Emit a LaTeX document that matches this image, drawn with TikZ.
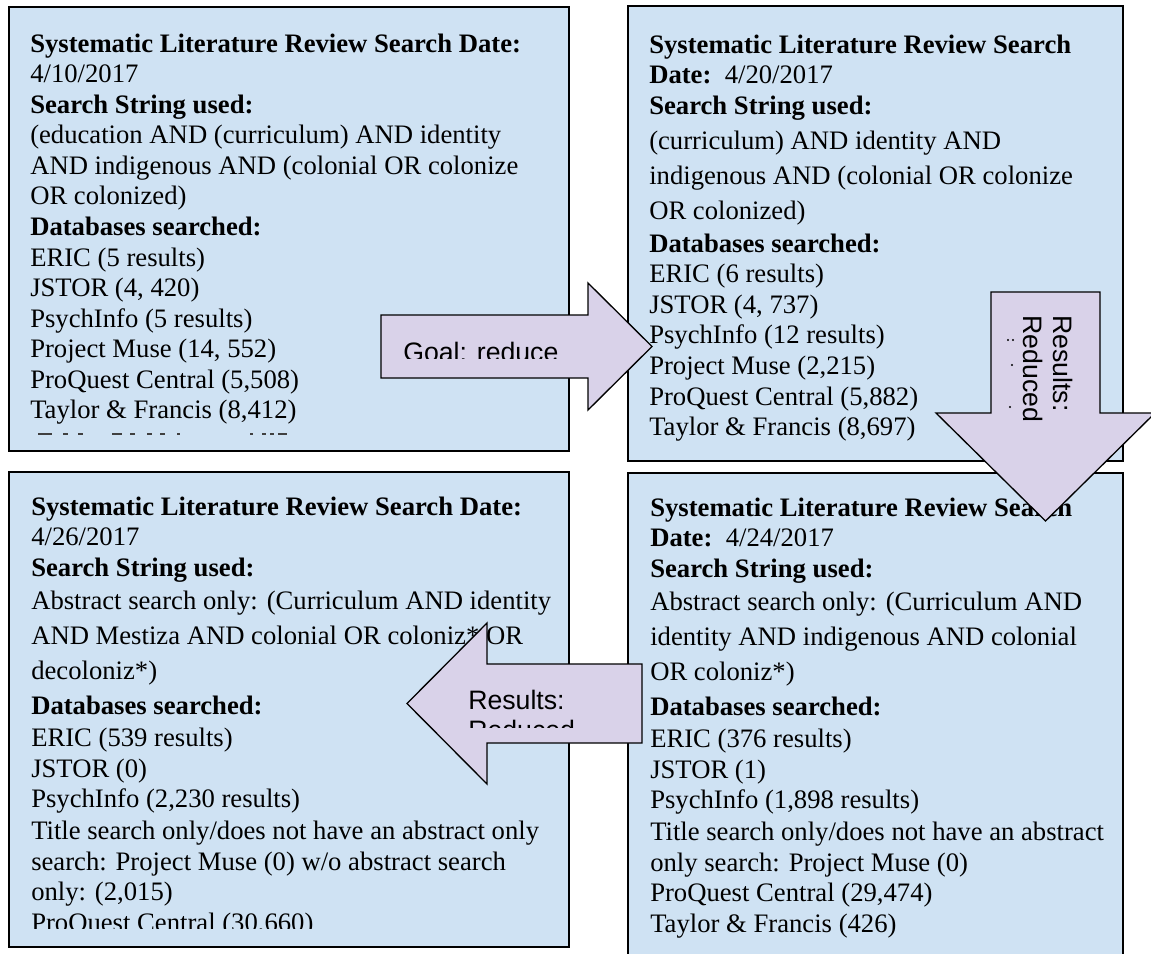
\documentclass[tikz,border=0pt]{standalone}
\usepackage{fontspec}
\setmainfont{Liberation Serif}
\newfontfamily\arrowfont{Liberation Sans}
\usepackage{tikz}
\usetikzlibrary{fit}
\definecolor{panelblue}{HTML}{CFE2F3}
\definecolor{arrowlilac}{HTML}{D9D2E9}
\newcommand{\topstrut}{\rule{0pt}{15pt}}

\begin{document}
\begin{tikzpicture}[
    x=0.75pt, y=-0.75pt,
    panel/.style={draw=black, line width=1pt, fill=panelblue, inner sep=0pt},
    paneltext/.style={anchor=north west, inner sep=0pt, align=left, font=\fontsize{20pt}{22.9pt}\selectfont},
    blockarrow/.style={draw=black, line width=1pt, fill=arrowlilac, line join=miter},
    arrowtext/.style={anchor=north west, inner sep=0pt, align=left, font=\arrowfont\fontsize{20pt}{23pt}\selectfont},
]
    \useasboundingbox (0,0) rectangle (1151,953);

    % Search panels
    \node[panel, fit={(9,7) (569,451)}] (first) {};
    \node[panel, fit={(628,6) (1123,461)}] (second) {};
    \node[panel, fit={(9,472) (569,947)}] (fourth) {};
    \node[panel, fit={(628,473) (1123,962)}] (third) {};

    \begin{scope}
        \clip (9,7) rectangle (569,436);
        \node[paneltext] (firsttext) at (30,32) {\topstrut\textbf{Systematic Literature Review Search Date:}\\
            4/10/2017\\
            \textbf{Search String used:}\\
            (education AND (curriculum) AND identity\\
            AND indigenous AND (colonial OR colonize\\
            OR colonized)\\
            \textbf{Databases searched:}\\
            ERIC (5 results)\\
            JSTOR (4, 420)\\
            PsychInfo (5 results)\\
            Project Muse (14, 552)\\
            ProQuest Central (5,508)\\
            Taylor \& Francis (8,412)};
        \foreach \a/\b in {38/52, 63/68, 78/83, 112/122, 130/135, 147/152, 160/165, 177/180, 250/253, 262/266, 270/274, 278/287}
            \draw[line width=0.8pt, black!75] (\a,434) -- (\b,434);
    \end{scope}

    \node[paneltext] (secondtext) at (649,33) {\topstrut\textbf{Systematic Literature Review Search}\\
        \textbf{Date:}~~4/20/2017\\
        \textbf{Search String used:}\\[3.35pt]
        (curriculum) AND identity AND\\[3.35pt]
        indigenous AND (colonial OR colonize\\[3.35pt]
        OR colonized)\\[1.85pt]
        \textbf{Databases searched:}\\
        ERIC (6 results)\\
        JSTOR (4, 737)\\
        PsychInfo (12 results)\\
        Project Muse (2,215)\\
        ProQuest Central (5,882)\\
        Taylor \& Francis (8,697)};

    \node[paneltext] (thirdtext) at (650,496) {\topstrut\textbf{Systematic Literature Review Search}\\
        \textbf{Date:}~~4/24/2017\\
        \textbf{Search String used:}\\[1.9pt]
        Abstract search only: (Curriculum AND\\[3.4pt]
        identity AND indigenous AND colonial\\[3.4pt]
        OR coloniz*)\\[3.4pt]
        \textbf{Databases searched:}\\[1.1pt]
        ERIC (376 results)\\
        JSTOR (1)\\
        PsychInfo (1,898 results)\\[1.1pt]
        Title search only/does not have an abstract\\
        only search: Project Muse (0)\\
        ProQuest Central (29,474)\\
        Taylor \& Francis (426)};

    \begin{scope}
        \clip (9,472) rectangle (569,928);
        \node[paneltext] (fourthtext) at (31,495) {\topstrut\textbf{Systematic Literature Review Search Date:}\\
            4/26/2017\\
            \textbf{Search String used:}\\[1.9pt]
            Abstract search only: (Curriculum AND identity\\[3.4pt]
            AND Mestiza AND colonial OR coloniz* OR\\[3.4pt]
            decoloniz*)\\[3.4pt]
            \textbf{Databases searched:}\\[1.1pt]
            ERIC (539 results)\\
            JSTOR (0)\\
            PsychInfo (2,230 results)\\[1.1pt]
            Title search only/does not have an abstract only\\
            search: Project Muse (0) w/o abstract search\\
            only: (2,015)\\
            ProQuest Central (30,660)};
    \end{scope}

    % Block arrows
    \draw[blockarrow] (381,315) -- (588,315) -- (588,283) -- (652,346.5) -- (588,410) -- (588,378) -- (381,378) -- cycle;
    \begin{scope}
        \clip (381,315) rectangle (588,358);
        \node[arrowtext] (goal) at (403,341) {\topstrut Goal: reduce};
    \end{scope}

    \draw[blockarrow] (991,292) -- (1100,292) -- (1100,413) -- (1155,413) -- (1045.5,521) -- (936,413) -- (991,413) -- cycle;
    \begin{scope}
        \clip (1007,292) rectangle (1100,521);
        \node[arrowtext, rotate=-90] (downlabel) at (1074,315) {\topstrut Results:\\ Reduced};
        \foreach \p in {(1008,340), (1013,340), (1012,365), (1010,407)}
            \fill[black] \p circle (1.1);
    \end{scope}

    \draw[blockarrow] (642,664) -- (487,664) -- (487,623) -- (407,703.5) -- (487,784) -- (487,743) -- (642,743) -- cycle;
    \begin{scope}
        \clip (407,623) rectangle (642,727);
        \node[arrowtext] (backlabel) at (468,689) {\topstrut Results:\\ Reduced};
    \end{scope}
\end{tikzpicture}
\end{document}
